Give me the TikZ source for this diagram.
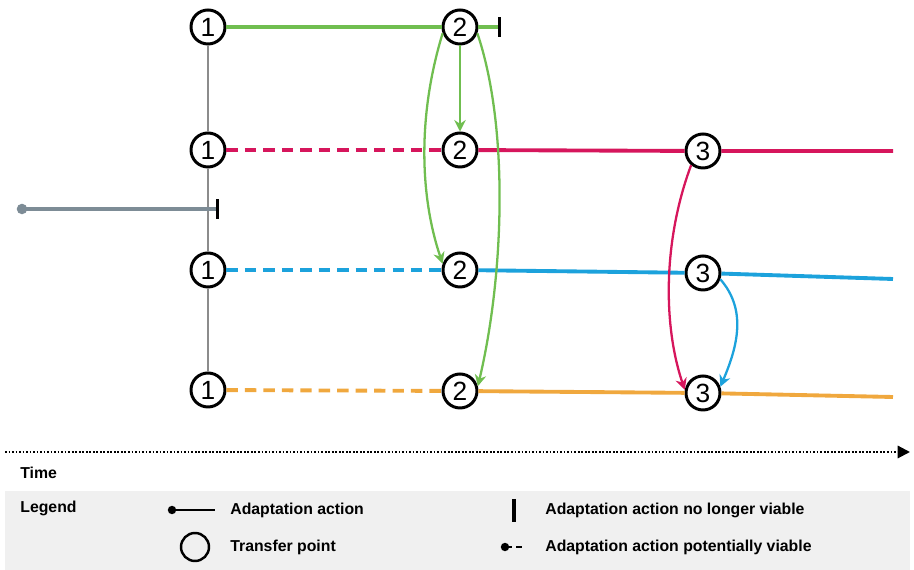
\documentclass[tikz,border=0pt]{standalone}
\usepackage{fontspec}
\setmainfont{Liberation Sans}
\usepackage{tikz}
\usetikzlibrary{arrows.meta}
\definecolor{dfgreen}{RGB}{112,190,80}
\definecolor{dfpink}{RGB}{214,22,92}
\definecolor{dfblue}{RGB}{28,162,220}
\definecolor{dforange}{RGB}{240,168,62}
\definecolor{dfslate}{RGB}{125,140,150}
\definecolor{dfgray}{RGB}{140,140,140}
\definecolor{leggray}{RGB}{240,240,240}
\tikzstyle{tpoint} = [circle,draw=black,line width=1.7pt,fill=white,minimum size=0.68cm,inner sep=0pt,font=\fontsize{15}{15}\selectfont]
\tikzstyle{action} = [line width=2.2pt]
\tikzstyle{potential} = [line width=2.2pt,dash pattern=on 6.5pt off 4pt]
\tikzstyle{transfer} = [line width=1.3pt,-{Stealth[length=6.5pt,width=6.5pt]}]
\tikzstyle{stopbar} = [-{Bar[width=11pt,line width=1.8pt,color=black]}]
\tikzstyle{legtext} = [anchor=west,inner sep=0pt,font=\fontsize{9}{11}\selectfont\bfseries]

\begin{document}
\begin{tikzpicture}[x=0.02cm, y=-0.02cm]
\useasboundingbox (0,0) rectangle (914,570);

% Legend background
\fill[leggray] (5,491) rectangle (910,570);

% Transfer points
\node[tpoint] (t1a) at (208,27) {1};
\node[tpoint] (t1b) at (208,150) {1};
\node[tpoint] (t1c) at (208,270) {1};
\node[tpoint] (t1d) at (208,390) {1};
\node[tpoint] (t2a) at (460,27) {2};
\node[tpoint] (t2b) at (460,150) {2};
\node[tpoint] (t2c) at (460,270) {2};
\node[tpoint] (t2d) at (460,391) {2};
\node[tpoint] (t3b) at (703,151) {3};
\node[tpoint] (t3c) at (703,273) {3};
\node[tpoint] (t3d) at (703,393) {3};

% Current action and branching
\coordinate (g0) at (22,209);
\coordinate (g1) at (219,209);
\draw[line width=1.3pt, dfgray] (t1a) -- (t1b) -- (t1c) -- (t1d);
\draw[action, dfslate, stopbar] (g0) -- (g1);
\fill[dfslate] (g0) circle (3pt);

% Pathways
\coordinate (gend) at (501,27);
\coordinate (pend) at (893,151);
\coordinate (bend) at (893,279);
\coordinate (oend) at (893,397);
\draw[action, dfgreen] (t1a) -- (t2a);
\draw[action, dfgreen, stopbar] (t2a) -- (gend);
\draw[potential, dfpink] (t1b) -- (t2b);
\draw[action, dfpink] (t2b) -- (t3b) -- (pend);
\draw[potential, dfblue] (t1c) -- (t2c);
\draw[action, dfblue] (t2c) -- (t3c) -- (bend);
\draw[potential, dforange] (t1d) -- (t2d);
\draw[action, dforange] (t2d) -- (t3d) -- (oend);

% Transfers
\draw[transfer, dfgreen] (t2a) -- (t2b);
\draw[transfer, dfgreen] (t2a.200) .. controls +(-26,85) and +(-22,-65) .. (t2c.160);
\draw[transfer, dfgreen] (t2a.-20) .. controls +(32,95) and +(26,-110) .. (t2d.15);
\draw[transfer, dfpink] (t3b.-130) .. controls +(-28,75) and +(-22,-65) .. (t3d.170);
\draw[transfer, dfblue] (t3c.-20) .. controls +(26,30) and +(18,-42) .. (t3d.20);

% Time axis
\coordinate (ta) at (5,452);
\coordinate (tb) at (910,452);
\draw[line width=1.2pt, dash pattern=on 1pt off 1pt, -{Triangle[length=7pt,width=7pt]}] (ta) -- (tb);
\node[legtext] (time) at (20,473) {Time};

% Legend
\node[legtext] (legend) at (20,508) {Legend};
\coordinate (la) at (172,510);
\coordinate (lb) at (215,510);
\draw[line width=1.3pt] (la) -- (lb);
\fill (la) circle (2.4pt);
\node[legtext] (lacttext) at (230,510) {Adaptation action};
\node[circle, draw=black, line width=1.4pt, minimum size=0.56cm, inner sep=0pt] (ltp) at (195,547) {};
\node[legtext] (ltptext) at (230,547) {Transfer point};
\coordinate (lc) at (514,499);
\coordinate (ld) at (514,522);
\draw[line width=1.8pt] (lc) -- (ld);
\node[legtext] (lstoptext) at (545,510) {Adaptation action no longer viable};
\coordinate (le) at (505,547);
\coordinate (lf) at (522,547);
\draw[line width=1.3pt, dash pattern=on 4pt off 2.5pt] (le) -- (lf);
\fill (le) circle (2.4pt);
\node[legtext] (lpottext) at (545,547) {Adaptation action potentially viable};
\end{tikzpicture}
\end{document}
